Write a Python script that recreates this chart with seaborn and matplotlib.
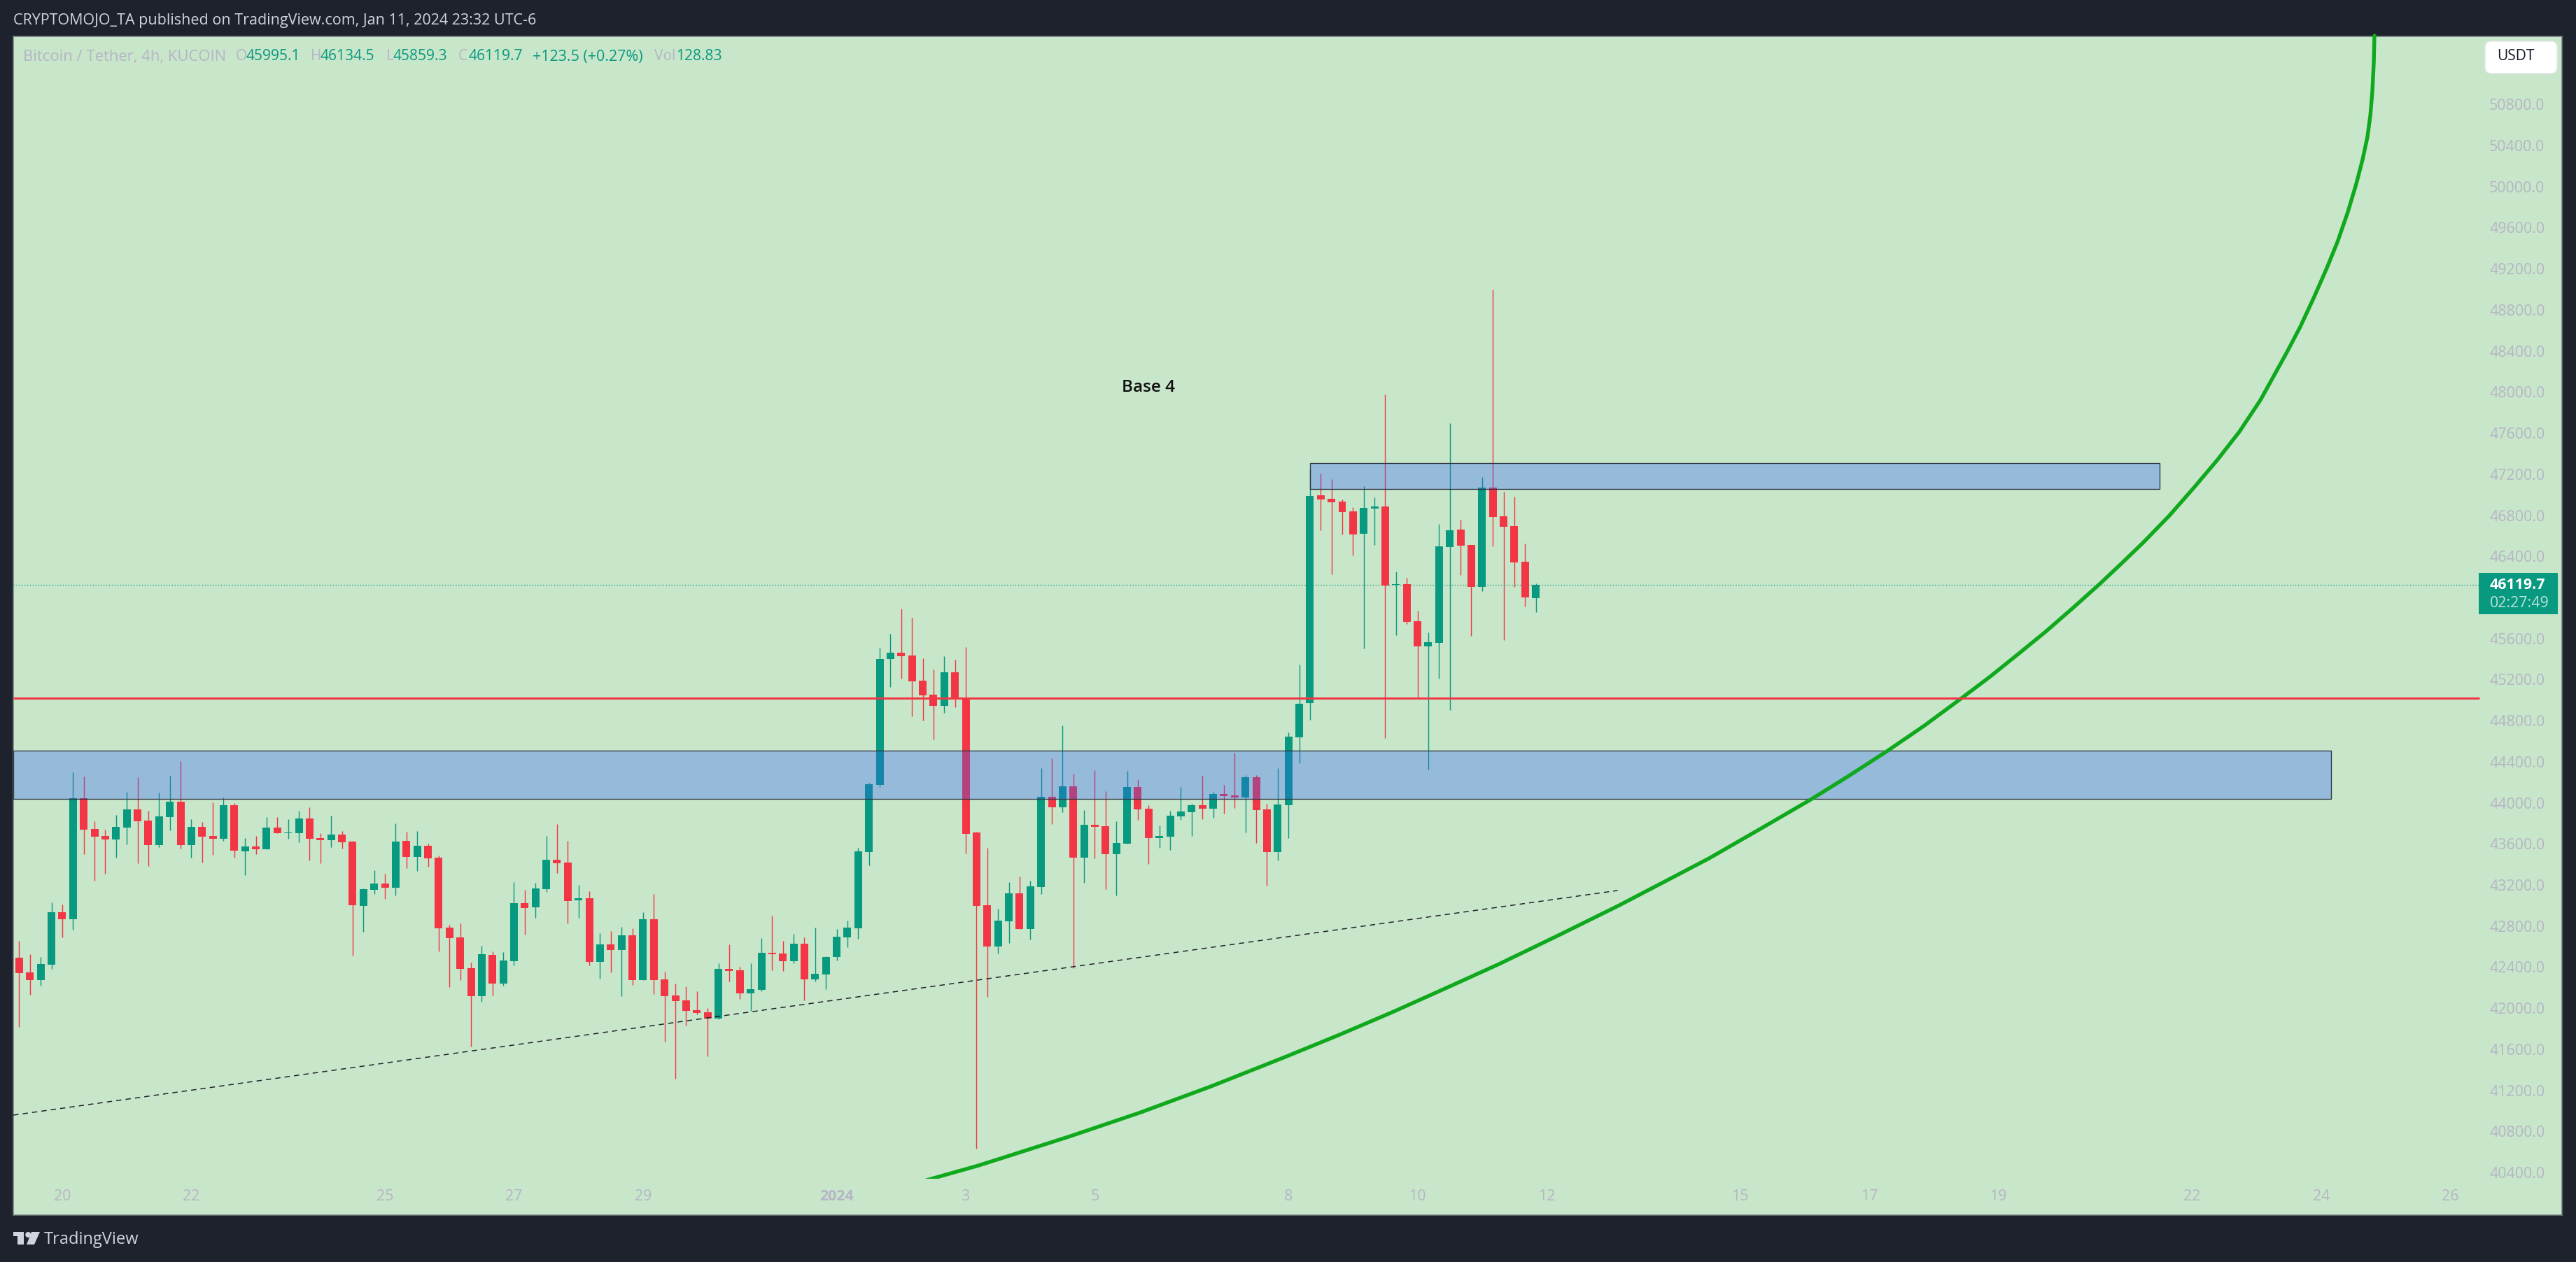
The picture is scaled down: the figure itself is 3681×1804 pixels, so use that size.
import numpy as np
import pandas as pd
import matplotlib
matplotlib.use("Agg")
import matplotlib.pyplot as plt
from matplotlib.patches import Rectangle, FancyBboxPatch, Polygon, Circle
import seaborn as sns

opens = [42491,42348,42272,42423,42935,42867,44042,43745,43678,43644,43758,43936,43826,43589,43860,44011,43589,43766,43678,43649,
43977,43526,43576,43547,43758,43704,43704,43847,43657,43636,43691,43623,42994,43154,43213,43172,43628,43472,43581,43466,
42783,42689,42390,42116,42517,42238,42457,43023,42981,43159,43445,43417,43049,43070,42450,42622,42567,42710,42272,42867,
42280,42124,42077,41980,41960,41900,42382,42369,42145,42178,42538,42533,42457,42627,42280,42327,42499,42689,42778,43521,
44175,45401,45461,45433,45189,45054,44943,45269,45016,43712,43003,42600,42847,43118,42770,43181,44060,43956,44161,43466,
43785,43771,43500,43601,44154,43942,43660,43671,43867,43908,43976,43942,44085,44072,44051,44249,43935,43520,43976,44636,
44973,46994,46960,46934,46838,46620,46865,46885,46122,46128,45768,45524,45557,46492,46660,46511,46102,47070,46789,46696,46346,45995.1]
closes = [42343,42272,42429,42935,42867,44042,43737,43670,43644,43766,43936,43821,43589,43868,44011,43589,43766,43670,43649,43977,
43534,43576,43547,43758,43704,43711,43847,43649,43636,43691,43615,43002,43159,43213,43172,43623,43472,43581,43459,42778,
42682,42382,42116,42525,42238,42465,43023,42976,43167,43445,43412,43044,43070,42450,42622,42567,42710,42272,42867,42272,
42116,42069,41973,41954,41900,42382,42361,42145,42184,42538,42525,42457,42627,42280,42335,42499,42695,42783,43526,44181,
45401,45461,45429,45182,45047,44943,45269,45016,43698,42996,42600,42854,43118,42770,43187,44060,43956,44161,43466,43785,
43764,43500,43608,44154,43935,43657,43674,43876,43915,43976,43942,44085,44065,44051,44249,43929,43520,43983,44644,44963,
46987,46954,46928,46832,46614,46871,46885,46115,46128,45762,45524,45564,46498,46653,46505,46102,47070,46782,46686,46340,45999,46119.7]
highs = [42656,42525,42499,43028,43010,44298,44256,43821,43737,43881,44105,44248,43923,44100,44261,44405,43839,43813,44003,44050,
43998,43657,43678,43860,43860,43839,43923,43956,43704,43876,43724,43628,43167,43344,43310,43800,43717,43724,43602,43487,
42812,42825,42444,42606,42554,42546,43226,43154,43221,43678,43792,43628,43200,43138,42729,42749,42791,42778,42935,43112,
42356,42238,42212,42165,41999,42437,42622,42403,42437,42682,42901,42656,42723,42689,42783,42504,42770,42854,43560,44194,
45509,45645,45891,45801,45408,45297,45429,45394,45516,43719,43559,42969,43226,43281,43240,44338,44432,44752,44282,43928,
44317,44112,43820,44310,44230,43976,43778,43921,44153,43990,44262,44106,44174,44487,44269,44269,43990,44337,44685,45346,
47248,47205,47152,46954,46878,47083,46974,47974,46251,46191,45871,45659,46716,47697,46756,46511,47172,48998,47030,46980,46525,46134.5]
lows = [41816,42132,42218,42382,42689,42765,43500,43240,43310,43466,43594,43412,43383,43568,43732,43555,43466,43417,43492,43631,
43466,43294,43500,43547,43704,43649,43615,43438,43412,43568,43555,42512,42744,43112,43065,43099,43365,43336,43378,42554,
42205,42272,41626,42061,42124,42218,42416,42716,42880,43133,43315,42825,42880,42416,42288,42348,42116,42225,42272,42137,
41673,41313,41832,41939,41532,41892,42259,42090,41973,42165,42369,42361,42437,42077,42259,42184,42465,42593,42676,43391,
44154,45127,45210,44842,44800,44616,44877,44929,43507,40633,42110,42534,42635,42770,42670,43111,43792,43907,42388,43219,
43459,43160,43097,43601,43834,43403,43559,43542,43833,43677,43840,43854,43895,43949,43711,43608,43193,43438,43656,44385,
44808,46653,46224,46614,46409,45501,46511,44633,45633,45742,45016,44326,45210,44903,46218,45627,46062,46498,45584,46102,45910,45859.3]

curve_bar = [82.8,84.81,89.04,91.26,97.76,104.27,110.78,117.67,122.62,127.63,132.57,137.58,143.11,148.64,152.87,157.1,161.85,166.66,170.11,173.62,
177.14,180.58,183.25,185.92,188.39,190.86,193.4,195.48,197.5,199.9,202.18,204.33,206.41,208.36,210.77,212.07,213.37,214.54,215.52,216.49,
217.27,217.86,218.31,218.58,218.77,218.9,218.96]
curve_price = [40278,40339,40464,40537,40755,40986,41238,41524,41736,41960,42192,42430,42710,42996,43227,43459,43745,44038,44263,44501,
44753,45019,45230,45455,45666,45891,46129,46334,46538,46797,47069,47335,47614,47921,48377,48636,48929,49208,49460,49753,
50026,50264,50482,50693,50932,51204,51470]
trend_bar = [-0.55,148.6]
trend_price = [40959,43146]

support_level = 45016
zone_low = [44041,44505]
zone_high = [47059,47310]
last_price = 46119.7
pane_floor = 40339

ytick_values = list(range(40400,51200,400))
xtick_bars = [4,16,34,46,58,76,88,100,118,130,142,160,172,184,202,214,226]
xtick_labels = ["20","22","25","27","29","2024","3","5","8","10","12","15","17","19","22","24","26"]

W,H = 3681,1804
BG="#C8E6C9"; DARK="#1E222D"; UP="#089981"; DOWN="#F23645"; LINEGREEN="#10A91E"; GREY="#B6B5C6"; ZONE="#2F60FB"; LIGHT="#D1D4DC"
FONT="Open Sans"

sns.set_theme(style="white", rc={"font.family":FONT})
df = pd.DataFrame({"bar":np.arange(len(opens)),"open":opens,"high":highs,"low":lows,"close":closes})
df["up"]=df.close>=df.open
df["color"]=np.where(df.up,UP,DOWN)

fig = plt.figure(figsize=(W/100,H/100),dpi=100,facecolor=DARK)
ax = fig.add_axes([19/W,1-1737/H,(3661-19)/W,(1737-52)/H],facecolor=BG)
ax.set_xlim(-0.55,236.4)
ax.set_ylim(39985,51463)
px = 0.72

ax.vlines(df.bar,df.low,df.high,colors=df.color,lw=1.4*px,zorder=2)
ax.bar(df.bar,(df.close-df.open).abs().clip(lower=8),bottom=df[["open","close"]].min(axis=1),width=0.715,color=df.color,lw=0,zorder=3)

sns.lineplot(x=trend_bar,y=trend_price,ax=ax,color="#1E222D",lw=1.5*px,linestyle=(0,(5,4)),zorder=5,errorbar=None,sort=False)
n_before = len(ax.lines)
sns.lineplot(x=curve_bar,y=curve_price,ax=ax,color=LINEGREEN,lw=5.4*px,zorder=6,errorbar=None,sort=False)
clip = Rectangle((-0.55,pane_floor),237,12000,transform=ax.transData)
for ln in ax.lines[n_before:]:
    ln.set_clip_path(clip)

pane_right = 228.7
ax.hlines(support_level,-0.55,pane_right,color=DOWN,lw=3*px,zorder=7)
ax.hlines(last_price,-0.55,pane_right,color=UP,lw=1.3*px,linestyle=(0,(1,2)),zorder=2)

zone_face = matplotlib.colors.to_rgba(ZONE,0.32)
ax.add_patch(Rectangle((-0.55,zone_low[0]),214.9+0.55,zone_low[1]-zone_low[0],facecolor=zone_face,edgecolor="#2F3440",lw=1.3*px,zorder=4))
ax.add_patch(Rectangle((120,zone_high[0]),199-120,zone_high[1]-zone_high[0],facecolor=zone_face,edgecolor="#2F3440",lw=1.3*px,zorder=4))

ax.text(105,48043,"Base 4",fontsize=17.5,color="#111111",ha="center",va="center",fontweight="semibold",zorder=9)

ax.yaxis.tick_right()
ax.set_yticks(ytick_values)
ax.set_yticklabels([f"{v:.1f}" for v in ytick_values],fontsize=15.4,color=GREY,ha="left")
ax.tick_params(axis="y",length=0,pad=-104*px)
ax.set_xticks(xtick_bars)
ax.set_xticklabels(xtick_labels,fontsize=15.4,color=GREY)
for lab,t in zip(ax.get_xticklabels(),xtick_labels):
    if t=="2024":
        lab.set_fontweight("bold")
ax.tick_params(axis="x",length=0,pad=-37*px)
for s in ax.spines.values():
    s.set_color("#6F7B7A"); s.set_linewidth(1.5*px); s.set_visible(True)
ax.grid(False)
ax.set_xlabel(""); ax.set_ylabel("")

# overlay of the TradingView chrome, in image pixels
ov = fig.add_axes([0,0,1,1],facecolor="none")
ov.set_xlim(0,W); ov.set_ylim(H,0); ov.axis("off")

ov.text(19,29,"CRYPTOMOJO_TA published on TradingView.com, Jan 11, 2024 23:32 UTC-6",fontsize=15.5,color=LIGHT,va="center",ha="left")
legend_parts = [(33,"Bitcoin / Tether, 4h, KUCOIN",GREY,15.8),(337,"O",GREY,15.1),(351,"45995.1",UP,15.1),(444,"H",GREY,15.1),(458,"46134.5",UP,15.1),
 (552,"L",GREY,15.1),(562,"45859.3",UP,15.1),(655,"C",GREY,15.1),(669,"46119.7",UP,15.1),(761,"+123.5 (+0.27%)",UP,15.4),(935,"Vol",GREY,15.1),(966,"128.83",UP,15.1)]
for x,t,c,fs in legend_parts:
    ov.text(x,81,t,fontsize=fs,color=c,va="center",ha="left")

ov.add_patch(FancyBboxPatch((3555,63),95,38,boxstyle="round,pad=4,rounding_size=9",facecolor="white",edgecolor="#E6E8EC",lw=1))
ov.text(3568,81,"USDT",fontsize=15.1,color="#131722",va="center",ha="left")

ov.add_patch(Rectangle((3542,819),113,59,facecolor=UP,edgecolor="none"))
ov.text(3558,836,"46119.7",fontsize=15.4,color="white",fontweight="bold",va="center",ha="left")
ov.text(3558,863,"02:27:49",fontsize=15.4,color="#BDE3DC",va="center",ha="left")

ov.add_patch(Polygon([(19,1761),(34.4,1761),(34.4,1779),(25.4,1779),(25.4,1767),(19,1767)],facecolor=LIGHT,edgecolor="none"))
ov.add_patch(Circle((40.2,1765),4,facecolor=LIGHT,edgecolor="none"))
ov.add_patch(Polygon([(45,1761),(57,1761),(49,1779),(38,1779)],facecolor=LIGHT,edgecolor="none"))
ov.text(63,1772,"TradingView",fontsize=17,color=LIGHT,va="center",ha="left")

fig.savefig("out.png",dpi=100,facecolor=DARK)
